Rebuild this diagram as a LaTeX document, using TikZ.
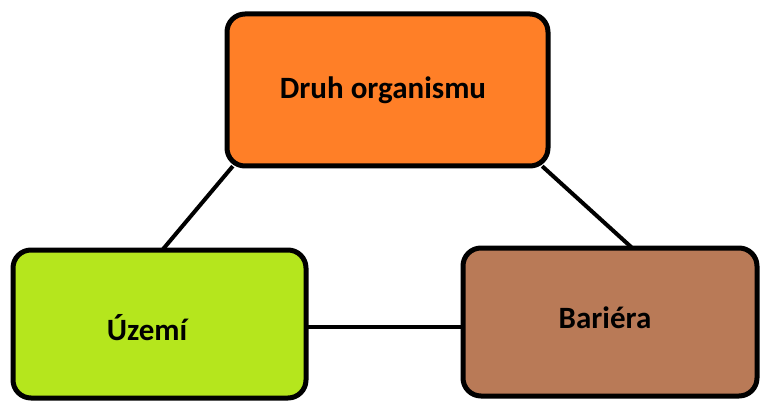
\documentclass[tikz,border=0pt]{standalone}
\usepackage{fontspec}
\setmainfont{Carlito}
\usetikzlibrary{calc}
\definecolor{boxorange}{HTML}{FF7F27}
\definecolor{boxgreen}{HTML}{B5E61D}
\definecolor{boxbrown}{HTML}{B97A57}
\tikzset{
  box/.style={draw=black, line width=5pt, rounded corners=18pt, inner sep=0pt},
  lbl/.style={font=\fontsize{31}{37}\selectfont\bfseries, inner sep=0pt, text=black},
  link/.style={draw=black, line width=4pt}
}
\begin{document}
\begin{tikzpicture}[x=1pt, y=-1pt]
\useasboundingbox (0,0) rectangle (761,401);
% boxes (positions of box outlines)
\coordinate (druhC) at (387.5,90);
\coordinate (uzemiC) at (159.5,324);
\coordinate (barieraC) at (610,322);
% connectors drawn first, boxes on top
\path (druhC) node[minimum width=321pt, minimum height=152pt, inner sep=0pt] (druhG) {};
\path (uzemiC) node[minimum width=293pt, minimum height=148pt, inner sep=0pt] (uzemiG) {};
\path (barieraC) node[minimum width=294pt, minimum height=148pt, inner sep=0pt] (barieraG) {};
\draw[link] ($(druhG.south west)+(6,0)$) coordinate (l1a) -- ($(uzemiG.north)+(3,0)$) coordinate (l1b);
\draw[link] ($(druhG.south east)+(-6,0)$) coordinate (l2a) -- ($(barieraG.north)+(22,0)$) coordinate (l2b);
\draw[link] ($(uzemiG.east)+(0,3)$) coordinate (l3a) -- (l3a -| barieraG.west) coordinate (l3b);
\node[box, fill=boxorange, minimum width=321pt, minimum height=152pt] (druh) at (druhC) {};
\node[box, fill=boxgreen, minimum width=293pt, minimum height=148pt] (uzemi) at (uzemiC) {};
\node[box, fill=boxbrown, minimum width=294pt, minimum height=148pt] (bariera) at (barieraC) {};
\node[lbl] (druhT) at (383,90) {Druh organismu};
\node[lbl] (uzemiT) at (147,328) {Území};
\node[lbl] (barieraT) at (605,318) {Bariéra};
\end{tikzpicture}
\end{document}
